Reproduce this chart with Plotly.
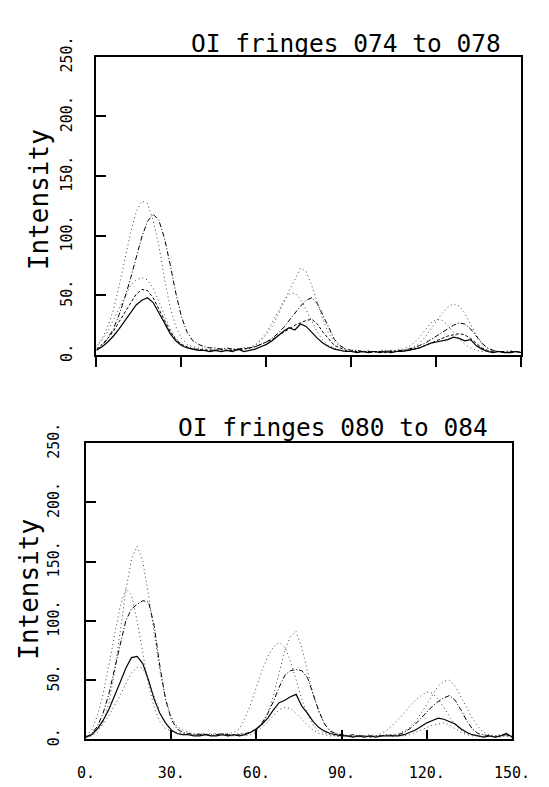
import plotly.graph_objects as go

# x positions (0..150 step 2)
x_vals = list(range(0, 151, 2))

# ---- Top panel: OI fringes 074 to 078 ----
top_f1 = [6, 14, 24, 38, 58, 80, 102, 120, 129, 127,
          113, 92, 64, 40, 24, 14, 9, 7, 6, 5,
          5, 4, 5, 4, 5, 4, 5, 6, 8, 12,
          17, 24, 33, 44, 54, 63, 73, 70, 58, 44,
          29, 18, 11, 7, 5, 4, 3, 3, 4, 2,
          3, 3, 4, 3, 4, 5, 7, 10, 15, 22,
          29, 35, 40, 43, 41, 35, 26, 17, 10, 6,
          4, 3, 3, 4, 3, 3]
top_f2 = [4, 8, 14, 22, 34, 48, 64, 82, 99, 112,
          118, 113, 98, 76, 52, 32, 19, 12, 9, 7,
          6, 6, 5, 6, 5, 5, 6, 6, 7, 9,
          11, 14, 18, 23, 29, 35, 41, 46, 48, 43,
          33, 22, 13, 8, 5, 4, 4, 3, 3, 3,
          3, 4, 3, 4, 4, 5, 6, 8, 10, 13,
          16, 19, 22, 25, 27, 26, 22, 16, 10, 6,
          4, 3, 3, 2, 3, 2]
top_f3 = [8, 13, 20, 29, 39, 49, 58, 63, 65, 63,
          56, 45, 33, 22, 14, 9, 7, 6, 5, 5,
          4, 5, 4, 4, 5, 4, 5, 6, 9, 13,
          19, 27, 36, 45, 51, 52, 47, 38, 28, 19,
          12, 8, 6, 4, 3, 3, 3, 2, 3, 3,
          3, 3, 4, 4, 5, 7, 10, 15, 21, 27,
          30, 29, 25, 19, 13, 9, 6, 4, 3, 3,
          3, 3, 2, 3, 2, 3]
top_f4 = [5, 9, 14, 20, 28, 36, 44, 51, 55, 54,
          48, 39, 29, 20, 13, 9, 7, 5, 5, 4,
          4, 4, 5, 4, 4, 5, 5, 6, 7, 9,
          11, 13, 16, 19, 22, 25, 27, 29, 30, 26,
          19, 13, 8, 6, 4, 3, 3, 3, 2, 3,
          3, 2, 3, 3, 4, 4, 5, 6, 8, 10,
          12, 14, 16, 17, 18, 17, 14, 10, 6, 4,
          3, 3, 2, 3, 3, 2]
top_f5 = [4, 7, 11, 16, 22, 29, 36, 42, 46, 48,
          44, 36, 27, 18, 12, 8, 6, 5, 4, 4,
          3, 4, 3, 4, 3, 5, 3, 4, 5, 7,
          9, 12, 16, 20, 23, 21, 26, 24, 19, 14,
          10, 7, 5, 4, 3, 3, 2, 3, 2, 3,
          2, 3, 2, 3, 3, 4, 5, 6, 8, 10,
          11, 12, 13, 15, 14, 12, 13, 8, 5, 3,
          2, 3, 2, 2, 3, 2]

# ---- Bottom panel: OI fringes 080 to 084 ----
bot_f1 = [2, 3, 6, 14, 30, 56, 90, 125, 152, 163,
          150, 122, 90, 58, 34, 19, 11, 8, 6, 5,
          5, 4, 5, 4, 5, 4, 4, 5, 5, 6,
          8, 12, 22, 37, 56, 75, 87, 91, 77, 57,
          38, 23, 13, 7, 5, 4, 3, 3, 3, 2,
          3, 3, 3, 4, 4, 5, 7, 10, 15, 22,
          30, 38, 45, 49, 50, 45, 36, 27, 18, 11,
          6, 4, 3, 3, 4, 3]
bot_f2 = [2, 5, 11, 22, 38, 58, 80, 100, 110, 114,
          117, 116, 96, 62, 34, 17, 9, 6, 5, 4,
          4, 5, 3, 4, 5, 4, 3, 4, 5, 6,
          8, 14, 22, 32, 44, 54, 58, 59, 58, 52,
          38, 24, 13, 7, 5, 4, 3, 4, 3, 3,
          2, 3, 3, 4, 3, 4, 6, 9, 13, 18,
          23, 28, 32, 35, 37, 33, 25, 16, 9, 5,
          4, 3, 2, 3, 4, 2]
bot_f3 = [3, 8, 20, 38, 62, 86, 112, 127, 122, 100,
          72, 46, 27, 15, 9, 7, 6, 5, 5, 4,
          5, 4, 4, 5, 4, 5, 6, 9, 18, 30,
          44, 58, 70, 78, 82, 78, 66, 50, 34, 21,
          12, 7, 5, 4, 3, 3, 4, 2, 3, 3,
          4, 3, 5, 8, 12, 17, 22, 28, 33, 37,
          40, 39, 34, 27, 19, 12, 8, 5, 4, 3,
          3, 2, 3, 4, 3, 2]
bot_f4 = [2, 4, 9, 16, 25, 36, 48, 60, 69, 70,
          64, 50, 34, 22, 14, 8, 5, 4, 4, 3,
          3, 4, 3, 3, 4, 3, 4, 3, 4, 6,
          9, 13, 18, 25, 31, 33, 36, 38, 28, 22,
          15, 10, 7, 5, 4, 3, 3, 2, 3, 2,
          3, 2, 3, 3, 3, 3, 4, 6, 8, 11,
          14, 16, 18, 17, 15, 13, 9, 6, 4, 3,
          2, 3, 2, 3, 5, 2]
bot_f5 = [2, 4, 8, 13, 20, 28, 37, 47, 56, 61,
          60, 50, 36, 23, 14, 8, 5, 4, 4, 3,
          4, 3, 4, 3, 4, 3, 3, 4, 3, 4,
          6, 10, 15, 20, 25, 27, 26, 22, 17, 12,
          8, 5, 4, 3, 3, 2, 3, 3, 2, 3,
          3, 2, 3, 3, 4, 3, 3, 4, 6, 8,
          10, 12, 13, 14, 12, 9, 6, 4, 3, 3,
          2, 3, 3, 2, 3, 2]

x_tickvals = [0, 30, 60, 90, 120, 150]
x_ticktext = ["0.", "30.", "60.", "90.", "120.", "150."]
y_tickvals = [0, 50, 100, 150, 200, 250]
y_ticktext = ["0.", "50.", "100.", "150.", "200.", "250."]

title_top = "OI fringes 074 to 078"
title_bot = "OI fringes 080 to 084"
y_title = "Intensity"

DOT = dict(color="#444444", width=1, dash="1px,3px")
DASHDOT = dict(color="black", width=1, dash="5px,2px,1px,2px")
DASH = dict(color="black", width=1, dash="3px,2px")
SOLID = dict(color="black", width=1.2)

W, H = 549, 787
FONT = "DejaVu Sans Mono"

fig = go.Figure()
top_series = [(top_f1, DOT), (top_f2, DASHDOT), (top_f3, DOT), (top_f4, DASH), (top_f5, SOLID)]
bot_series = [(bot_f1, DOT), (bot_f2, DASHDOT), (bot_f3, DOT), (bot_f4, SOLID), (bot_f5, DOT)]
for ys, ln in top_series:
    fig.add_trace(go.Scatter(x=x_vals, y=ys, mode="lines", line=ln, xaxis="x", yaxis="y",
                             showlegend=False, hoverinfo="skip"))
for ys, ln in bot_series:
    fig.add_trace(go.Scatter(x=x_vals, y=ys, mode="lines", line=ln, xaxis="x2", yaxis="y2",
                             showlegend=False, hoverinfo="skip"))

common_axis = dict(showline=True, linecolor="black", linewidth=1.6, mirror=True,
                   showgrid=False, zeroline=False, tickcolor="black")

fig.update_layout(
    width=W, height=H,
    margin=dict(l=0, r=0, t=0, b=0),
    paper_bgcolor="white", plot_bgcolor="white",
    xaxis=dict(domain=[92 / W, 539 / W], anchor="y", range=[0, 150],
               tickvals=x_tickvals, ticktext=x_ticktext, showticklabels=False,
               ticks="outside", ticklen=10, tickwidth=1.6, **common_axis),
    yaxis=dict(domain=[1 - 347 / H, 1 - 38 / H], anchor="x", range=[0, 250],
               tickvals=y_tickvals, ticktext=y_ticktext, tickangle=-90,
               ticks="inside", ticklen=10, tickwidth=2, ticklabelstandoff=17,
               tickfont=dict(family=FONT, size=15, color="black"),
               **common_axis),
    xaxis2=dict(domain=[81 / W, 529 / W], anchor="y2", range=[0, 150],
                tickvals=x_tickvals, ticktext=x_ticktext,
                ticks="inside", ticklen=10, tickwidth=1.6, ticklabelstandoff=19,
                tickfont=dict(family=FONT, size=15, color="black"),
                **common_axis),
    yaxis2=dict(domain=[1 - 745 / H, 1 - 438 / H], anchor="x2", range=[0, 250],
                tickvals=y_tickvals, ticktext=y_ticktext, tickangle=-90,
                ticks="inside", ticklen=10, tickwidth=2, ticklabelstandoff=19,
                tickfont=dict(family=FONT, size=15, color="black"),
                **common_axis),
    annotations=[
        dict(text=title_top, x=354 / W, y=1 - 24 / H, xref="paper", yref="paper",
             xanchor="center", yanchor="middle", showarrow=False,
             font=dict(family=FONT, size=24.5, color="black")),
        dict(text=title_bot, x=341 / W, y=1 - 422 / H, xref="paper", yref="paper",
             xanchor="center", yanchor="middle", showarrow=False,
             font=dict(family=FONT, size=24.5, color="black")),
        dict(text=y_title, x=31 / W, y=1 - 186 / H, xref="paper", yref="paper",
             xanchor="center", yanchor="middle", showarrow=False, textangle=-90,
             font=dict(family=FONT, size=26, color="black")),
        dict(text=y_title, x=21 / W, y=1 - 589 / H, xref="paper", yref="paper",
             xanchor="center", yanchor="middle", showarrow=False, textangle=-90,
             font=dict(family=FONT, size=26, color="black")),
    ],
)

fig.write_html("out.html")
